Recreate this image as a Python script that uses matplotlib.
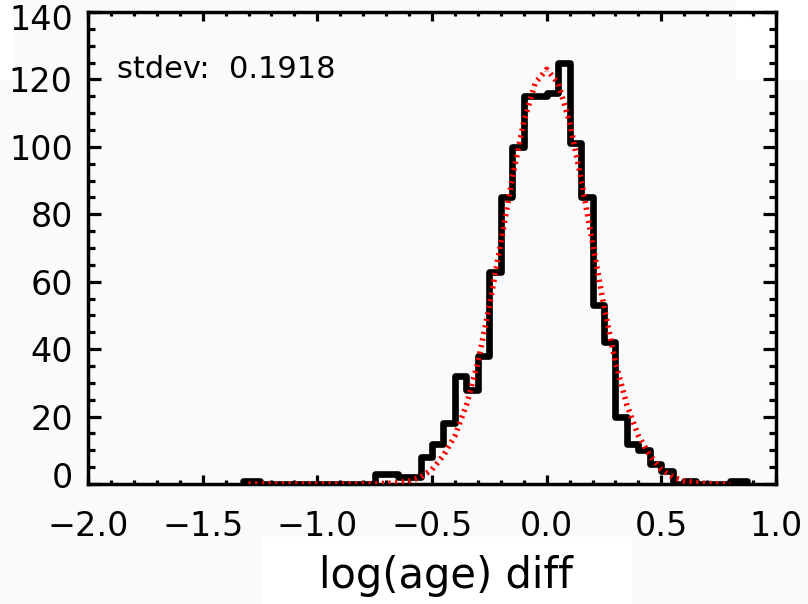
import matplotlib
matplotlib.use('Agg')
import matplotlib.pyplot as plt
from matplotlib.patches import Rectangle
from matplotlib.ticker import MultipleLocator
from matplotlib.transforms import ScaledTranslation
import numpy as np

# histogram of log(age) differences: bins of 0.05, first bin centre at -1.325
bin_first = -1.325
bin_width = 0.05
counts = [1, 1, 0, 0, 0, 0, 0, 0, 0, 0, 0, 0,
          3, 3, 2, 2, 8, 12, 18, 32, 28, 38, 63, 85, 100,
          115, 115, 116, 125, 101, 85, 53, 42, 20, 12, 10, 6, 4,
          0, 1, 0, 0, 0, 1, 1]

# gaussian fit (red dotted), read at steps of 0.05 from -1.3 to 0.8
fit_first = -1.3
fit_step = 0.05
fit = [0, 0, 0, 0, 0, 0, 0, 0, 0,
       0.01, 0.02, 0.06, 0.16, 0.4, 0.9, 2.0, 4.3, 8.5, 14.3, 23.4, 36.0,
       52.7, 71.5, 90.6, 107.4, 118.9, 123.0, 118.9, 107.4, 90.6, 71.5,
       52.7, 36.0, 23.4, 14.3, 8.5, 4.3, 2.0, 0.9, 0.4, 0.16, 0.06, 0.02]

stdev_text = 'stdev:  0.1918'
x_label = 'log(age) diff'
x_ticks = [-2.0, -1.5, -1.0, -0.5, 0.0, 0.5, 1.0]
y_ticks = [0, 20, 40, 60, 80, 100, 120, 140]

centers = bin_first + bin_width * np.arange(len(counts))
fit_x = fit_first + fit_step * np.arange(len(fit))

plt.rcParams['font.family'] = ['DejaVu Sans']

fig = plt.figure(figsize=(8.08, 6.04), dpi=100, facecolor='#fafafa')
# white patches seen in the screenshot
for (x0, y0, w, h) in [(0, 1 - 80/604, 13/808, 80/604),
                       (736/808, 1 - 80/604, 72/808, 80/604),
                       (261/808, 0, 371/808, 67/604)]:
    fig.add_artist(Rectangle((x0, y0), w, h, transform=fig.transFigure,
                             facecolor='white', edgecolor='none', zorder=-5))

ax = fig.add_axes([88/808, 1 - 484/604, 688/808, 472/604])
ax.set_facecolor('none')

ax.step(centers, counts, where='mid', color='black', lw=4.8,
        solid_joinstyle='round', solid_capstyle='round', zorder=3)
ax.plot(fit_x, fit, color='red', lw=4, linestyle=(0, (0.4, 0.8)),
        dash_capstyle='butt', zorder=4)

ax.set_xlim(-2.0, 1.0)
ax.set_ylim(0, 140)
ax.set_xticks(x_ticks)
ax.set_xticklabels([('%.1f' % t).replace('-', '\u2212') for t in x_ticks])
ax.set_yticks(y_ticks)
ax.xaxis.set_minor_locator(MultipleLocator(0.1))
ax.yaxis.set_minor_locator(MultipleLocator(5))

for s in ax.spines.values():
    s.set_linewidth(2.5)
ax.tick_params(which='both', direction='in', top=True, right=True,
               width=2.3, labelsize=24, color='black')
ax.tick_params(axis='x', which='major', length=6.5, pad=19)
ax.tick_params(axis='x', which='minor', length=3)
ax.tick_params(axis='y', which='major', length=9.5, pad=11)
ax.tick_params(axis='y', which='minor', length=5)

# end labels of the y axis sit inside the axis range, as in the reference
ylabels = ax.get_yticklabels()
ylabels[0].set_transform(ylabels[0].get_transform()
                         + ScaledTranslation(0, 9/100, fig.dpi_scale_trans))
ylabels[-1].set_transform(ylabels[-1].get_transform()
                          + ScaledTranslation(0, -5/100, fig.dpi_scale_trans))

ax.set_xlabel(x_label, fontsize=30)
ax.xaxis.set_label_coords(0.52, -0.15)

ax.text(0.042, 0.86, stdev_text, transform=ax.transAxes, fontsize=22,
        va='baseline', ha='left')

plt.savefig('out.png', dpi=100, facecolor=fig.get_facecolor())
